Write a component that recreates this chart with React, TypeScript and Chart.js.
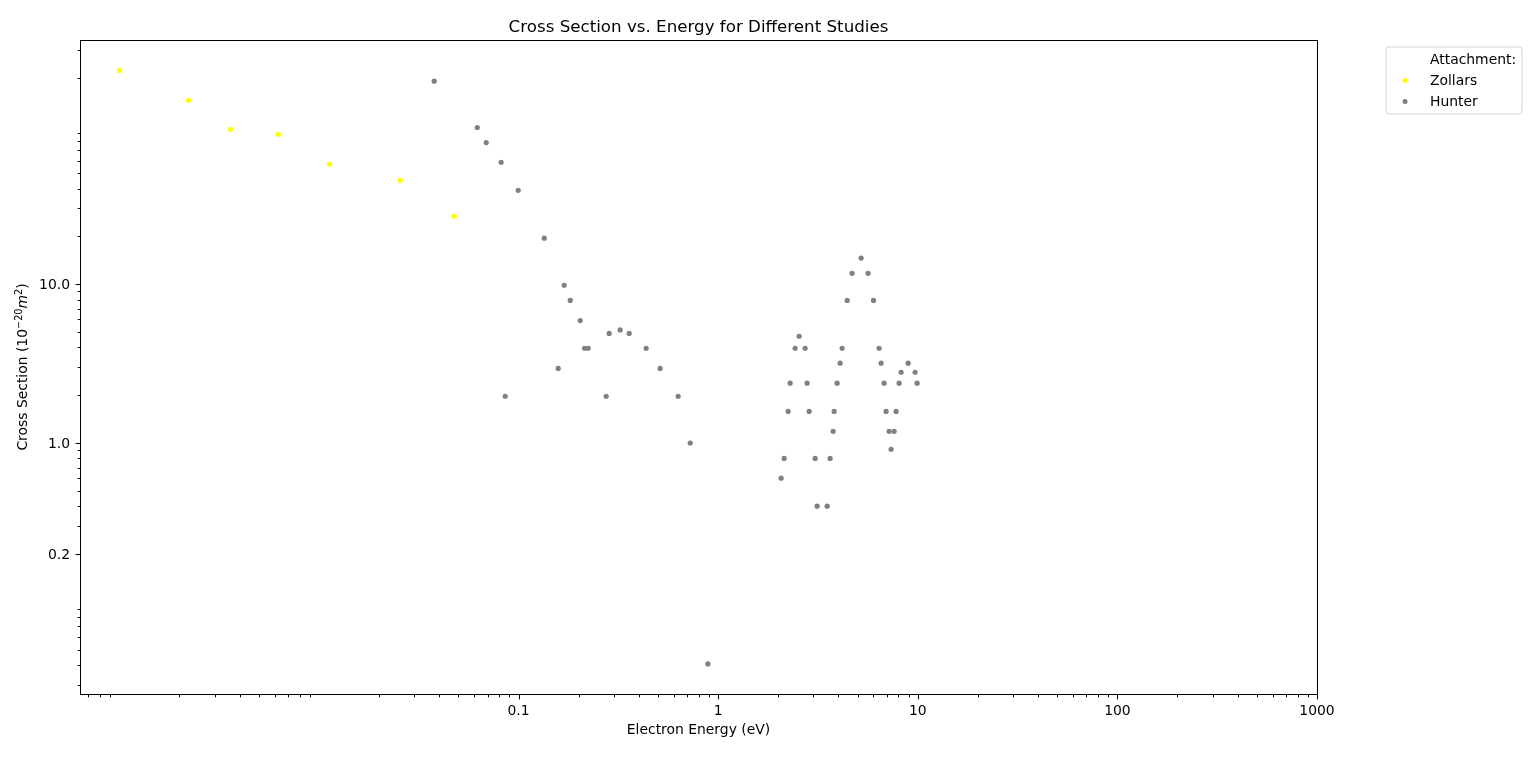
import React, { useEffect, useRef } from "react";
import { Chart, registerables } from "chart.js";

Chart.register(...registerables);

// ---- data ----
const zollarsEnergy = [0.001, 0.00222, 0.0036, 0.00626, 0.01127, 0.0255, 0.0476];
const zollarsCross = [222, 144, 94.5, 87.9, 56.9, 45.1, 26.8];

const hunterEnergy = [
  0.0378, 0.0621, 0.0689, 0.0818, 0.0996, 0.1345, 0.1693, 0.1815, 0.2037,
  0.2844, 0.3229, 0.3583, 0.2142, 0.2233, 0.4358, 0.158, 0.5123, 0.0857,
  0.2748, 0.6303, 0.7243, 0.888,
  5.203, 4.69, 5.64, 4.428, 6.002, 2.545, 2.43, 2.727, 4.178, 6.401,
  4.083, 6.55, 8.945, 8.252, 9.696, 2.294, 2.791, 3.945, 6.782, 8.064,
  9.924, 2.241, 2.856, 3.811, 6.94, 7.79, 3.767, 7.185, 7.611, 7.352,
  2.141, 3.061, 3.639, 2.068, 3.132, 3.516,
];
const hunterCross = [
  190, 97, 78, 58.6, 39, 19.5, 9.85, 7.9, 5.9,
  4.9, 5.15, 4.9, 3.95, 3.95, 3.95, 2.95, 2.95, 1.97,
  1.97, 1.97, 1.0, 0.0406,
  14.6, 11.7, 11.7, 7.9, 7.9, 4.7, 3.95, 3.95, 3.95, 3.95,
  3.18, 3.18, 3.18, 2.79, 2.79, 2.38, 2.38, 2.38, 2.38, 2.38,
  2.38, 1.58, 1.58, 1.58, 1.58, 1.58, 1.185, 1.185, 1.185, 0.913,
  0.8, 0.8, 0.8, 0.6, 0.4, 0.4,
];

const xTickValues = [0.1, 1, 10, 100, 1000];
const xTickLabels = ["0.1", "1", "10", "100", "1000"];
const yTickValues = [0.2, 1, 10];
const yTickLabels = ["0.2", "1.0", "10.0"];

const legendTitle = "Attachment:";
const seriesNames = ["Zollars", "Hunter"];
const seriesColors = ["#ffff00", "#808080"];

const titleText = "Cross Section vs. Energy for Different Studies";
const xLabelText = "Electron Energy (eV)";

const X_MIN = Math.pow(10, -3.197);
const X_MAX = 1000;
const Y_MIN = 0.02626;
const Y_MAX = 345;

const FONT = "'DejaVu Sans', 'Liberation Sans', sans-serif";

const decorPlugin = {
  id: "decor",
  afterDraw(chart: any) {
    const ctx: CanvasRenderingContext2D = chart.ctx;
    const { left, right, top, bottom } = chart.chartArea;
    const xs = chart.scales.x;
    const ys = chart.scales.y;
    ctx.save();

    // frame
    ctx.strokeStyle = "#000";
    ctx.lineWidth = 1;
    ctx.strokeRect(Math.round(left) + 0.5, Math.round(top) + 0.5, Math.round(right - left), Math.round(bottom - top));

    // ticks
    ctx.lineWidth = 1;
    const drawX = (v: number, len: number) => {
      const px = Math.round(xs.getPixelForValue(v)) + 0.5;
      ctx.beginPath();
      ctx.moveTo(px, Math.round(bottom) + 0.5);
      ctx.lineTo(px, Math.round(bottom) + 0.5 + len);
      ctx.stroke();
    };
    const drawY = (v: number, len: number) => {
      const py = Math.round(ys.getPixelForValue(v)) + 0.5;
      ctx.beginPath();
      ctx.moveTo(Math.round(left) + 0.5, py);
      ctx.lineTo(Math.round(left) + 0.5 - len, py);
      ctx.stroke();
    };
    for (let k = -5; k <= 4; k++) {
      for (let m = 2; m <= 9; m++) {
        const v = m * Math.pow(10, k);
        if (v >= X_MIN && v <= X_MAX) drawX(v, 2.8);
        if (v >= Y_MIN && v <= Y_MAX) drawY(v, 2.8);
      }
    }
    xTickValues.forEach((v) => drawX(v, 4.9));
    yTickValues.forEach((v) => drawY(v, 4.9));

    // title
    ctx.fillStyle = "#000";
    ctx.font = `16.7px ${FONT}`;
    ctx.textAlign = "center";
    ctx.textBaseline = "alphabetic";
    ctx.fillText(titleText, (left + right) / 2, 32);

    // x label
    ctx.font = `13.9px ${FONT}`;
    ctx.fillText(xLabelText, (left + right) / 2, 734);

    // y label with mathtext-like pieces
    const pieces = [
      { t: "Cross Section (10", f: `13.9px ${FONT}`, dy: 0 },
      { t: "\u221220", f: `9.7px ${FONT}`, dy: -5.5 },
      { t: "m", f: `italic 13.9px ${FONT}`, dy: 0 },
      { t: "2", f: `9.7px ${FONT}`, dy: -5.5 },
      { t: ")", f: `13.9px ${FONT}`, dy: 0 },
    ];
    let total = 0;
    const widths = pieces.map((p) => {
      ctx.font = p.f;
      const w = ctx.measureText(p.t).width;
      total += w;
      return w;
    });
    ctx.save();
    ctx.translate(27, (top + bottom) / 2);
    ctx.rotate(-Math.PI / 2);
    ctx.textAlign = "left";
    let cx = -total / 2;
    pieces.forEach((p, i) => {
      ctx.font = p.f;
      ctx.fillText(p.t, cx, p.dy);
      cx += widths[i];
    });
    ctx.restore();

    // legend
    const lx = 1386, ly = 47, lw = 136, lh = 67, r = 3;
    ctx.beginPath();
    ctx.moveTo(lx + r, ly);
    ctx.lineTo(lx + lw - r, ly);
    ctx.arcTo(lx + lw, ly, lx + lw, ly + r, r);
    ctx.lineTo(lx + lw, ly + lh - r);
    ctx.arcTo(lx + lw, ly + lh, lx + lw - r, ly + lh, r);
    ctx.lineTo(lx + r, ly + lh);
    ctx.arcTo(lx, ly + lh, lx, ly + lh - r, r);
    ctx.lineTo(lx, ly + r);
    ctx.arcTo(lx, ly, lx + r, ly, r);
    ctx.closePath();
    ctx.fillStyle = "rgba(255,255,255,0.8)";
    ctx.fill();
    ctx.strokeStyle = "#d6d6d6";
    ctx.lineWidth = 1;
    ctx.stroke();

    ctx.fillStyle = "#000";
    ctx.font = `13.9px ${FONT}`;
    ctx.textAlign = "left";
    ctx.textBaseline = "middle";
    ctx.fillText(legendTitle, 1430, 60);
    seriesNames.forEach((name, i) => {
      const yy = 81 + i * 21;
      ctx.fillStyle = seriesColors[i];
      ctx.beginPath();
      ctx.arc(1405, yy - 0.5, 2.5, 0, Math.PI * 2);
      ctx.fill();
      ctx.fillStyle = "#000";
      ctx.fillText(name, 1430, yy);
    });

    ctx.restore();
  },
};

export default function App() {
  const ref = useRef<HTMLCanvasElement | null>(null);

  useEffect(() => {
    if (!ref.current) return;
    const zollars = zollarsEnergy.map((x, i) => ({ x, y: zollarsCross[i] }));
    const hunter = hunterEnergy.map((x, i) => ({ x, y: hunterCross[i] }));
    const chart = new Chart(ref.current, {
      type: "scatter",
      data: {
        datasets: [
          {
            label: seriesNames[0],
            data: zollars,
            backgroundColor: seriesColors[0],
            borderWidth: 0,
            pointRadius: 2.6,
            pointHoverRadius: 2.6,
          },
          {
            label: seriesNames[1],
            data: hunter,
            backgroundColor: seriesColors[1],
            borderWidth: 0,
            pointRadius: 2.6,
            pointHoverRadius: 2.6,
          },
        ],
      },
      options: {
        animation: false,
        responsive: true,
        maintainAspectRatio: false,
        devicePixelRatio: 1,
        layout: { padding: { top: 40, right: 219, left: 0, bottom: 0 } },
        plugins: {
          legend: { display: false },
          title: { display: false },
          tooltip: { enabled: false },
        },
        events: [],
        scales: {
          x: {
            type: "logarithmic",
            min: X_MIN,
            max: X_MAX,
            bounds: "data",
            grid: { display: false, drawTicks: false },
            border: { display: false },
            ticks: {
              autoSkip: false,
              maxRotation: 0,
              minRotation: 0,
              padding: 9,
              color: "#000",
              font: { family: FONT, size: 13.9 },
              callback: (v: any) => {
                const i = xTickValues.indexOf(Number(v));
                return i >= 0 ? xTickLabels[i] : "";
              },
            },
            afterBuildTicks: (s: any) => {
              s.ticks = xTickValues.map((v) => ({ value: v }));
            },
            afterFit: (s: any) => {
              s.height = 68;
            },
          },
          y: {
            type: "logarithmic",
            min: Y_MIN,
            max: Y_MAX,
            bounds: "data",
            grid: { display: false, drawTicks: false },
            border: { display: false },
            ticks: {
              autoSkip: false,
              padding: 10,
              labelOffset: 1.5,
              color: "#000",
              font: { family: FONT, size: 13.9 },
              callback: (v: any) => {
                const i = yTickValues.indexOf(Number(v));
                return i >= 0 ? yTickLabels[i] : "";
              },
            },
            afterBuildTicks: (s: any) => {
              s.ticks = yTickValues.map((v) => ({ value: v }));
            },
            afterFit: (s: any) => {
              s.width = 80;
            },
          },
        },
      },
      plugins: [decorPlugin],
    });
    return () => chart.destroy();
  }, []);

  return (
    <div style={{ position: "absolute", left: 0, top: 0, width: 1536, height: 762, background: "#fff" }}>
      <canvas ref={ref} />
    </div>
  );
}
